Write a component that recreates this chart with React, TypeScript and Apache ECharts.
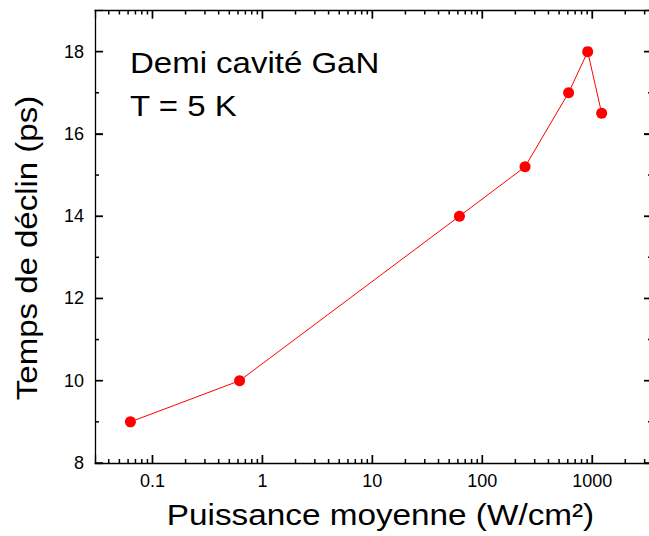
import React, { useEffect, useRef } from "react";
import * as echarts from "echarts";

const powerValues = [0.063, 0.62, 62, 245, 610, 910, 1220];
const decayTimes = [9, 10, 14, 15.2, 17, 18, 16.5];
const xMajorTicks = [0.1, 1, 10, 100, 1000];
const xMinorTicks = [
  0.04, 0.05, 0.06, 0.07, 0.08, 0.09,
  0.2, 0.3, 0.4, 0.5, 0.6, 0.7, 0.8, 0.9,
  2, 3, 4, 5, 6, 7, 8, 9,
  20, 30, 40, 50, 60, 70, 80, 90,
  200, 300, 400, 500, 600, 700, 800, 900,
  2000, 3000,
];
const yMajorTicks = [8, 10, 12, 14, 16, 18];
const yMinorTicks = [9, 11, 13, 15, 17];
const xTitle = "Puissance moyenne (W/cm²)";
const yTitle = "Temps de déclin (ps)";
const noteLines = ["Demi cavité GaN", "T = 5 K"];

const FONT = "'Liberation Sans', Arial, sans-serif";
const X_MIN = 0.03;
const X_MAX = 3500;
const Y_MIN = 8;
const Y_MAX = 19;
const MAJOR_LEN = 8;
const MINOR_LEN = 4;
const TICK_W = 1.5;

export default function App() {
  const ref = useRef<HTMLDivElement>(null);
  useEffect(() => {
    if (!ref.current) return;
    const chart = echarts.init(ref.current, null, { renderer: "svg" });
    const black = "#000";
    const axisLine = { show: true, onZero: false, lineStyle: { color: black, width: 1.3 } };
    const nativeTick = { show: true, inside: true, length: MAJOR_LEN, lineStyle: { color: black, width: 1.3 } };

    const textGraphics: any[] = [
      {
        type: "text",
        x: 380.5,
        y: 514.5,
        scaleX: 1.11,
        style: { text: xTitle, font: `30px ${FONT}`, fill: black, align: "center", verticalAlign: "middle" },
      },
      {
        type: "text",
        x: 27,
        y: 248,
        rotation: Math.PI / 2,
        scaleX: 1.1,
        style: { text: yTitle, font: `30px ${FONT}`, fill: black, align: "center", verticalAlign: "middle" },
      },
      {
        type: "text",
        x: 130,
        y: 62.5,
        scaleX: 1.1,
        style: { text: noteLines[0], font: `30px ${FONT}`, fill: black, align: "left", verticalAlign: "middle" },
      },
      {
        type: "text",
        x: 130,
        y: 105.5,
        scaleX: 1.1,
        style: { text: noteLines[1], font: `30px ${FONT}`, fill: black, align: "left", verticalAlign: "middle" },
      },
    ];

    chart.setOption({
      animation: false,
      backgroundColor: "#fff",
      grid: { left: 95, right: -3, top: 10.5, bottom: 73, outerBoundsMode: "none", containLabel: false },
      xAxis: [
        {
          type: "log",
          logBase: 10,
          position: "bottom",
          min: X_MIN,
          max: X_MAX,
          axisLine,
          axisTick: nativeTick,
          axisLabel: {
            show: true,
            customValues: xMajorTicks,
            margin: 9,
            color: black,
            fontSize: 18,
            fontFamily: FONT,
            formatter: (v: number) => String(v),
          },
          splitLine: { show: false },
        },
        {
          type: "log",
          logBase: 10,
          position: "top",
          min: X_MIN,
          max: X_MAX,
          axisLine,
          axisTick: nativeTick,
          axisLabel: { show: false },
          splitLine: { show: false },
        },
      ],
      yAxis: [
        {
          type: "value",
          position: "left",
          min: Y_MIN,
          max: Y_MAX,
          interval: 2,
          axisLine,
          axisTick: nativeTick,
          axisLabel: {
            show: true,
            customValues: yMajorTicks,
            margin: 11,
            color: black,
            fontSize: 18,
            fontFamily: FONT,
          },
          splitLine: { show: false },
        },
        {
          type: "value",
          position: "right",
          min: Y_MIN,
          max: Y_MAX,
          interval: 2,
          axisLine,
          axisTick: nativeTick,
          axisLabel: { show: false },
          splitLine: { show: false },
        },
      ],
      series: [
        {
          type: "line",
          xAxisIndex: 0,
          yAxisIndex: 0,
          data: powerValues.map((x, i) => [x, decayTimes[i]]),
          symbol: "circle",
          symbolSize: 11,
          itemStyle: { color: "#ff0000" },
          lineStyle: { color: "#ff0000", width: 1 },
          clip: false,
          z: 10,
        },
      ],
      graphic: textGraphics,
    });

    // Minor (and major) tick marks placed through the library's own axis scales.
    const toPx = (x: number, y: number) =>
      chart.convertToPixel({ xAxisIndex: 0, yAxisIndex: 0 }, [x, y]) as number[];
    const tickChildren: any[] = [];
    const addRect = (x: number, y: number, w: number, h: number) => {
      tickChildren.push({
        type: "rect",
        shape: { x, y, width: w, height: h },
        style: { fill: black },
      });
    };
    const addX = (vals: number[], len: number) =>
      vals.forEach((v) => {
        const b = toPx(v, Y_MIN);
        const t = toPx(v, Y_MAX);
        addRect(b[0] - TICK_W / 2, b[1] - len, TICK_W, len);
        addRect(t[0] - TICK_W / 2, t[1], TICK_W, len);
      });
    const addY = (vals: number[], len: number) =>
      vals.forEach((v) => {
        const l = toPx(X_MIN, v);
        const r = toPx(X_MAX, v);
        addRect(l[0], l[1] - TICK_W / 2, len, TICK_W);
        addRect(r[0] - len, r[1] - TICK_W / 2, len, TICK_W);
      });
    addX(xMajorTicks, MAJOR_LEN);
    addX(xMinorTicks, MINOR_LEN);
    addY(yMajorTicks, MAJOR_LEN);
    addY(yMinorTicks, MINOR_LEN);

    chart.setOption({
      graphic: [...textGraphics, { type: "group", id: "ticks", x: 0, y: 0, children: tickChildren }],
    });

    return () => chart.dispose();
  }, []);
  return (
    <div
      ref={ref}
      style={{ position: "fixed", left: 0, top: 0, width: 649, height: 536, background: "#fff" }}
    />
  );
}
